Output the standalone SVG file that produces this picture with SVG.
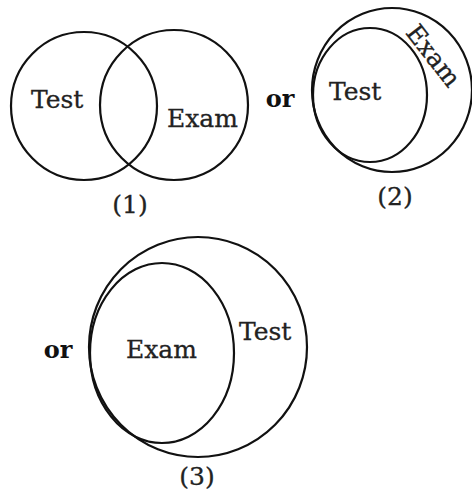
<svg xmlns="http://www.w3.org/2000/svg" width="472" height="491" viewBox="0 0 472 491">
<style>
.c{fill:none;stroke:#111;stroke-width:2.2}
.t{font-family:"DejaVu Serif","Liberation Serif",serif;font-size:25px;fill:#222;stroke:#222;stroke-width:0.3}
.b{font-family:"DejaVu Serif","Liberation Serif",serif;font-size:24px;font-weight:bold;fill:#111}
</style>
<rect width="472" height="491" fill="#fff"/>
<g id="diagram1">
<g id="test1"><ellipse class="c" cx="84" cy="106" rx="73" ry="74"/><text class="t" x="31" y="108">Test</text></g>
<g id="exam1"><ellipse class="c" cx="174" cy="105" rx="74" ry="75"/><text class="t" x="167" y="127">Exam</text></g>
<text class="t" x="130" y="213" text-anchor="middle">(1)</text>
</g>
<text class="b" x="280" y="107" text-anchor="middle">or</text>
<g id="diagram2">
<g id="exam2"><ellipse class="c" cx="392" cy="90" rx="80" ry="82"/><text class="t" transform="translate(433,56) rotate(52)" x="0" y="8" text-anchor="middle">Exam</text></g>
<g id="test2"><ellipse class="c" cx="370" cy="95" rx="57" ry="67"/><text class="t" x="329" y="100">Test</text></g>
<text class="t" x="395" y="205" text-anchor="middle">(2)</text>
</g>
<text class="b" x="58" y="358" text-anchor="middle">or</text>
<g id="diagram3">
<g id="test3"><ellipse class="c" cx="198" cy="347" rx="109" ry="110"/><text class="t" x="239" y="340">Test</text></g>
<g id="exam3"><ellipse class="c" cx="162" cy="353" rx="72" ry="90"/><text class="t" x="126" y="358">Exam</text></g>
<text class="t" x="197" y="485" text-anchor="middle">(3)</text>
</g>
</svg>
